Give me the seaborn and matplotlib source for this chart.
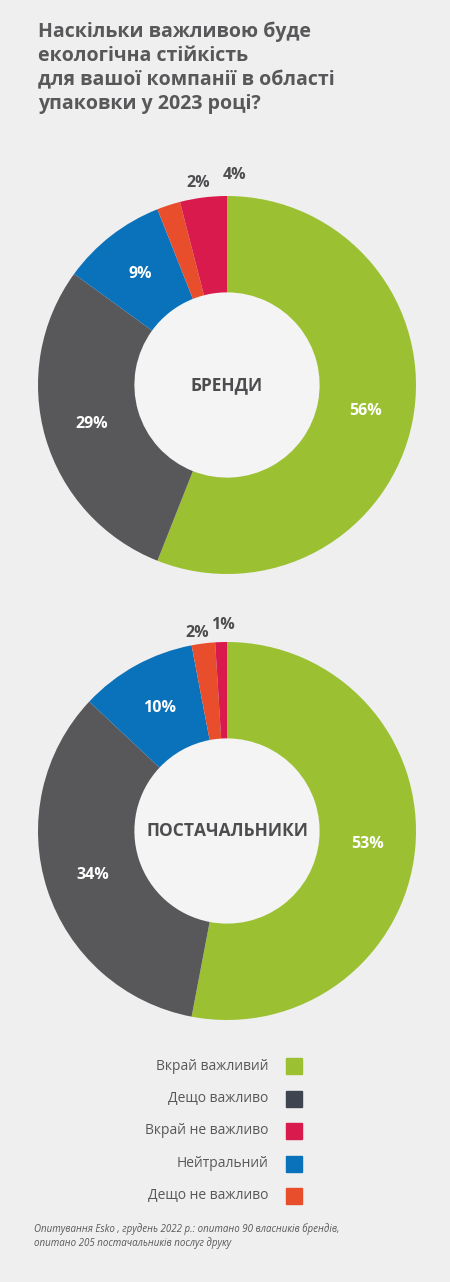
import numpy as np
import matplotlib
matplotlib.use("Agg")
import matplotlib.pyplot as plt
import seaborn as sns

categories = ["Вкрай важливий", "Дещо важливо", "Нейтральний", "Дещо не важливо", "Вкрай не важливо"]
brands = [56, 29, 9, 2, 4]
suppliers = [53, 34, 10, 2, 1]
legend_order = ["Вкрай важливий", "Дещо важливо", "Вкрай не важливо", "Нейтральний", "Дещо не важливо"]

colors = {
    "Вкрай важливий": "#9bc132",
    "Дещо важливо": "#58585a",
    "Нейтральний": "#0a72ba",
    "Дещо не важливо": "#e94e2c",
    "Вкрай не важливо": "#d91a4c",
}
legend_colors = dict(colors, **{"Дещо важливо": "#3f4550"})

BG = "#efefef"
TEXT = "#4d4d4f"

sns.set_theme(style="white")
plt.rcParams["font.family"] = ["Open Sans", "DejaVu Sans"]

W, H = 450, 1282
fig = plt.figure(figsize=(W / 100, H / 100), dpi=100)
fig.patch.set_facecolor(BG)


def donut(cx, cy, r, values, center_label, outside_offsets):
    ax = fig.add_axes([(cx - r) / W, 1 - (cy + r) / H, 2 * r / W, 2 * r / H])
    ax.set_facecolor(BG)
    wedges, _ = ax.pie(values, colors=[colors[c] for c in categories], startangle=90,
                       counterclock=False, radius=1.0,
                       wedgeprops=dict(width=0.51, edgecolor="none"))
    ax.add_patch(plt.Circle((0, 0), 0.49, color="#f4f4f4", zorder=0))
    for w, v, off in zip(wedges, values, outside_offsets):
        ang = np.deg2rad((w.theta1 + w.theta2) / 2)
        if off is None:
            rr = 0.745
            ax.text(rr * np.cos(ang), rr * np.sin(ang), f"{v}%", ha="center", va="center",
                    color="white", fontsize=11.5, fontweight="bold")
        else:
            x, y = off
            ax.text(x, y, f"{v}%", ha="center", va="center", color=TEXT,
                    fontsize=11.5, fontweight="bold")
    ax.text(0, 0, center_label, ha="center", va="center", color=TEXT,
            fontsize=12.5, fontweight="bold")
    ax.set_xlim(-1, 1)
    ax.set_ylim(-1, 1)
    ax.set_aspect("equal")
    ax.axis("off")


donut(227, 385, 189, brands, "БРЕНДИ", [None, None, None, (-0.15, 1.07), (0.04, 1.11)])
donut(227, 831, 189, suppliers, "ПОСТАЧАЛЬНИКИ", [None, None, None, (-0.16, 1.05), (-0.02, 1.09)])

fig.text(38 / W, 1 - 22 / H,
         "Наскільки важливою буде\nекологічна стійкість\nдля вашої компанії в області\nупаковки у 2023 році?",
         ha="left", va="top", fontsize=14, fontweight="bold", color="#58585a", linespacing=1.25)

for i, lab in enumerate(legend_order):
    y = 1066 + i * 32.5
    fig.text(268 / W, 1 - y / H, lab, ha="right", va="center", fontsize=10, color="#58585a")
    fig.patches.append(plt.Rectangle((286 / W, 1 - (y + 8) / H), 16 / W, 16 / H,
                                     transform=fig.transFigure, color=legend_colors[lab]))

fig.text(34 / W, 1 - 1236 / H,
         "Опитування Esko , грудень 2022 р.: опитано 90 власників брендів,\nопитано 205 постачальників послуг друку",
         ha="left", va="center", fontsize=7, style="italic", color="#58585a", linespacing=1.2)

fig.savefig("out.png", dpi=100, facecolor=BG)
